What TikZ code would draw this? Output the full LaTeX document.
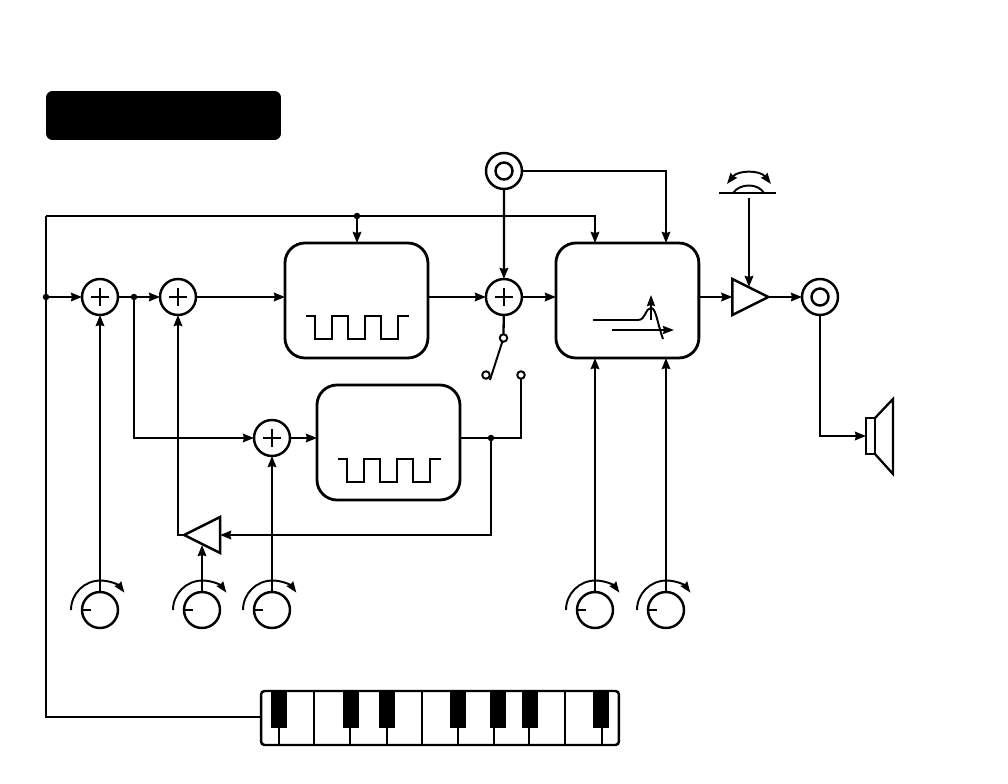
\documentclass[tikz,border=0pt]{standalone}
\usepackage{amsmath}
\usetikzlibrary{shapes.geometric, arrows.meta, calc}
\tikzstyle{block} = [draw, rectangle, line width=1.6pt, rounded corners=0.4cm,
    minimum height=2.3cm, minimum width=2.86cm, inner sep=0, outer sep=0]
\tikzstyle{mixer} = [draw, circle, line width=1.4pt, minimum size=0.72cm, inner sep=0, outer sep=0,
    path picture={\draw [line width=1pt] ([xshift=-0.18cm]path picture bounding box.center) -- ([xshift=0.18cm]path picture bounding box.center)
        ([yshift=-0.18cm]path picture bounding box.center) -- ([yshift=0.18cm]path picture bounding box.center);}]
\tikzstyle{jack} = [draw, circle, line width=1.4pt, minimum size=0.72cm, inner sep=0, outer sep=0,
    path picture={\draw [line width=1.4pt] (path picture bounding box.center) circle (0.17cm);}]
\tikzstyle{knob} = [draw, circle, line width=1.4pt, minimum size=0.72cm, inner sep=0, outer sep=0]
\tikzstyle{amp} = [draw, isosceles triangle, isosceles triangle stretches, line width=1.4pt,
    minimum width=0.72cm, minimum height=0.72cm, inner sep=0, outer sep=0]
\tikzstyle{tap} = [fill, circle, minimum size=0.13cm, inner sep=0, outer sep=0]
\tikzstyle{contact} = [draw, circle, line width=1.1pt, minimum size=0.15cm, inner sep=0, outer sep=0]
\tikzstyle{line} = [line width=1.3pt]
\tikzstyle{arrow} = [line width=1.3pt,->,>={Stealth[length=0.22cm,width=0.17cm,inset=0.02cm]}]
\tikzstyle{trace} = [line width=1.1pt]
\tikzstyle{tracearrow} = [line width=1.1pt,>={Stealth[length=0.22cm,width=0.16cm,inset=0.02cm]}]
\newcommand{\pulsetrain}[1]{\draw [trace] (#1) -- ++(9,0) -- ++(0,23) -- ++(17,0) -- ++(0,-23) -- ++(16,0)
    -- ++(0,23) -- ++(17,0) -- ++(0,-23) -- ++(16,0) -- ++(0,23) -- ++(17,0) -- ++(0,-23) -- ++(11,0);}

\begin{document}
\begin{tikzpicture}[x=0.02cm, y=-0.02cm, node distance=2cm]
    \useasboundingbox (0,0) rectangle (1008,784);

    % Title bar
    \node (title) [fill, rectangle, rounded corners=0.13cm, minimum width=4.7cm, minimum height=0.98cm,
        inner sep=0, outer sep=0] at (163.5,115.5) {};

    % Upper row
    \node (mixa) [mixer] at (100,297) {};
    \node (mixb) [mixer, right of=mixa, xshift=-0.44cm] {};
    \node (vcoa) [block, right of=mixb, xshift=1.57cm, yshift=-0.07cm] {};
    \node (mixd) [mixer, right of=vcoa, xshift=0.95cm, yshift=0.07cm] {};
    \node (vcf) [block, right of=mixd, xshift=0.47cm, yshift=-0.07cm] {};
    \node (vca) [amp] at (743.5,297) {};
    \node (jackb) [jack] at (820,297) {};
    \node (jacka) [jack] at (504,171) {};

    % Lower row
    \node (mixc) [mixer] at (272,438) {};
    \node (vcob) [block, right of=mixc, xshift=0.33cm, yshift=-0.09cm] {};
    \node (fbamp) [amp, shape border rotate=180] at (209,535) {};
    \node (spk) [draw, rectangle, line width=1.3pt, minimum width=0.18cm, minimum height=0.72cm,
        inner sep=0, outer sep=0] at (870.5,436) {};

    % Knobs
    \node (knoba) [knob] at (100,610) {};
    \node (knobb) [knob] at (202,610) {};
    \node (knobc) [knob] at (272,610) {};
    \node (knobd) [knob] at (595,610) {};
    \node (knobe) [knob] at (666,610) {};
    \foreach \k in {knoba,knobb,knobc,knobd,knobe} {
        \draw [trace] (\k.west) -- ++(0.18cm,0);
        \draw [tracearrow,->] (\k) ++(-0.58cm,0) arc [start angle=180, end angle=36, radius=0.59cm];
    }

    % Switch
    \node (swa) [contact] at (503.5,338) {};
    \node (swb) [contact] at (486,375) {};
    \node (swc) [contact] at (521,375) {};
    \coordinate (armend) at (490,380);
    \draw [trace] (swa) -- (armend);

    % Junctions
    \node (tapa) [tap] at (46,297) {};
    \node (tapb) [tap] at (134,297) {};
    \node (tapc) [tap] at (357,216) {};
    \node (tapd) [tap] at (491,438) {};
    \coordinate (corner) at (46,216);

    % Keyboard
    \node (keys) [draw, rectangle, line width=1.4pt, rounded corners=0.07cm, minimum width=7.16cm,
        minimum height=1.08cm, inner sep=0, outer sep=0] at (440,718) {};
    \foreach \x in {279,350,387,458,494,529,602}
        \draw [line] (\x,728) -- (\x,745);
    \foreach \x in {314,422,565}
        \draw [line] (\x,691) -- (\x,745);
    \foreach \x in {279,351,386.5,458,498,530,601}
        \fill (\x-8,691) rectangle (\x+8,728);

    % Arrows
    \draw [arrow] (tapa) -- (mixa);
    \draw [line] (mixa) -- (tapb);
    \draw [arrow] (tapb) -- (mixb);
    \draw [arrow] (mixb) -- (mixb -| vcoa.west);
    \draw [arrow] (mixd -| vcoa.east) -- (mixd);
    \draw [arrow] (mixd) -- (mixd -| vcf.west);
    \draw [arrow] (mixd -| vcf.east) -- (vca.lower side);
    \draw [arrow] (vca.apex) -- (jackb);
    \draw [arrow] (tapb) |- (mixc);
    \draw [arrow] (mixc) -- (mixc -| vcob.west);
    \draw [line] (mixc -| vcob.east) -- (tapd);
    \draw [line] (tapd) -| (swc);
    \draw [arrow] (tapd) |- (fbamp.lower side);
    \draw [arrow] (fbamp.apex) -| (mixb);
    \draw [line] (mixd) -- (swa);

    % Feedback and control lines
    \draw [line] (keys.west |- 0,717) -| (corner);
    \draw [arrow] (corner) -| (knobd |- vcf.north);
    \draw [arrow] (tapc) -- (tapc |- vcoa.north);
    \draw [arrow] (jacka) -- (mixd);
    \draw [arrow] (jacka) -| (knobe |- vcf.north);
    \draw [arrow] (knoba) -- (mixa);
    \draw [arrow] (knobb) -- (knobb |- 0,545);
    \draw [arrow] (knobc) -- (mixc);
    \draw [arrow] (knobd) -- (knobd |- vcf.south);
    \draw [arrow] (knobe) -- (knobe |- vcf.south);

    % Waveforms
    \pulsetrain{306,316}
    \pulsetrain{338,459}

    % Filter curve
    \draw [trace] (593,320) -- (638,320) .. controls (646,320) and (645,308) .. (651,308) .. controls (656,308) and (657,322) .. (663,339);
    \draw [tracearrow,->] (612,330) -- (674,330);
    \draw [tracearrow,->] (651,320) -- (651,295);

    % Level control
    \draw [line] (719,193) -- (776,193);
    \draw [trace] (733,193) .. controls (740,183) and (758,183) .. (764,193);
    \draw [tracearrow,<->] (727,184) .. controls (738,170) and (760,170) .. (771,184);
    \draw [arrow] (749,198) -- (749,287);

    % Speaker
    \draw [arrow] (jackb) |- (spk.west);
    \draw [line] (spk.north east) -- (893,399) -- (893,474) -- (spk.south east);

\end{tikzpicture}
\end{document}
